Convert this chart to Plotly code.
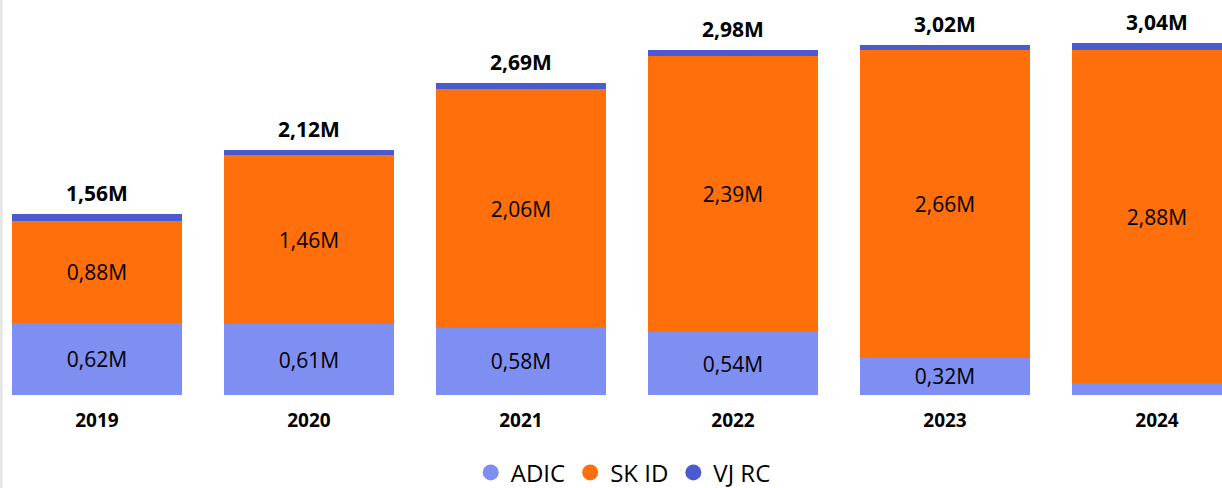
import plotly.graph_objects as go

years = ['2019', '2020', '2021', '2022', '2023', '2024']
adic = [0.62, 0.61, 0.58, 0.54, 0.32, 0.10]
skid = [0.88, 1.46, 2.06, 2.39, 2.66, 2.88]
vjrc = [0.06, 0.05, 0.05, 0.05, 0.04, 0.06]
totals = [1.56, 2.12, 2.69, 2.98, 3.02, 3.04]

C_ADIC = '#7F8FF1'
C_SKID = '#FF700D'
C_VJRC = '#4A5BCF'
FONT = 'Open Sans'


def fmt(v):
    return f"{v:.2f}".replace('.', ',') + 'M'


adic_txt = [fmt(v) if v >= 0.2 else '' for v in adic]
skid_txt = [fmt(v) for v in skid]

fig = go.Figure()
fig.add_trace(go.Bar(x=years, y=adic, name='ADIC', marker=dict(color=C_ADIC, line=dict(width=0)),
                     text=adic_txt, textposition='inside', insidetextanchor='middle', textangle=0,
                     insidetextfont=dict(family=FONT, size=21, color='black'),
                     showlegend=False, hoverinfo='skip'))
fig.add_trace(go.Bar(x=years, y=skid, name='SK ID', marker=dict(color=C_SKID, line=dict(width=0)),
                     text=skid_txt, textposition='inside', insidetextanchor='middle', textangle=0,
                     insidetextfont=dict(family=FONT, size=21, color='black'),
                     showlegend=False, hoverinfo='skip'))
fig.add_trace(go.Bar(x=years, y=vjrc, name='VJ RC', marker=dict(color=C_VJRC, line=dict(width=0)),
                     showlegend=False, hoverinfo='skip'))

# legend entries with circle markers
for nm, col in [('ADIC', C_ADIC), ('SK ID', C_SKID), ('VJ RC', C_VJRC)]:
    fig.add_trace(go.Scatter(x=[years[0]], y=[None], mode='markers', name=nm,
                             marker=dict(color=col, size=18, symbol='circle')))

for i, t in enumerate(totals):
    fig.add_annotation(x=i, y=t, text='<b>' + fmt(t) + '</b>', showarrow=False,
                       xref='x', yref='y', yanchor='bottom', yshift=5,
                       font=dict(family=FONT, size=21, color='black'))

fig.add_shape(type='line', xref='paper', yref='paper', x0=0.001, x1=0.001, y0=-0.24, y1=1.0,
              line=dict(color='#E6E6E6', width=3))

fig.update_layout(
    width=1222, height=488,
    margin=dict(l=0, r=0, t=0, b=93, autoexpand=False),
    barmode='stack', bargap=0.2,
    plot_bgcolor='white', paper_bgcolor='white',
    font=dict(family=FONT, color='black'),
    xaxis=dict(type='category', range=[-0.4575, 5.3066], showgrid=False, showline=False, zeroline=False,
               tickfont=dict(family=FONT, size=19, color='black'),
               ticklabelstandoff=12, ticks='', tickprefix='<b>', ticksuffix='</b>'),
    yaxis=dict(range=[0, 3.411], visible=False, showgrid=False),
    legend=dict(orientation='h', x=0.51, xanchor='center', y=-0.197, yanchor='middle',
                font=dict(family=FONT, size=24, color='black'), itemwidth=30,
                traceorder='normal'),
)

fig.write_html('out.html', config={'displayModeBar': False},
               post_script="document.body.style.margin='0';document.body.style.overflow='hidden';")
